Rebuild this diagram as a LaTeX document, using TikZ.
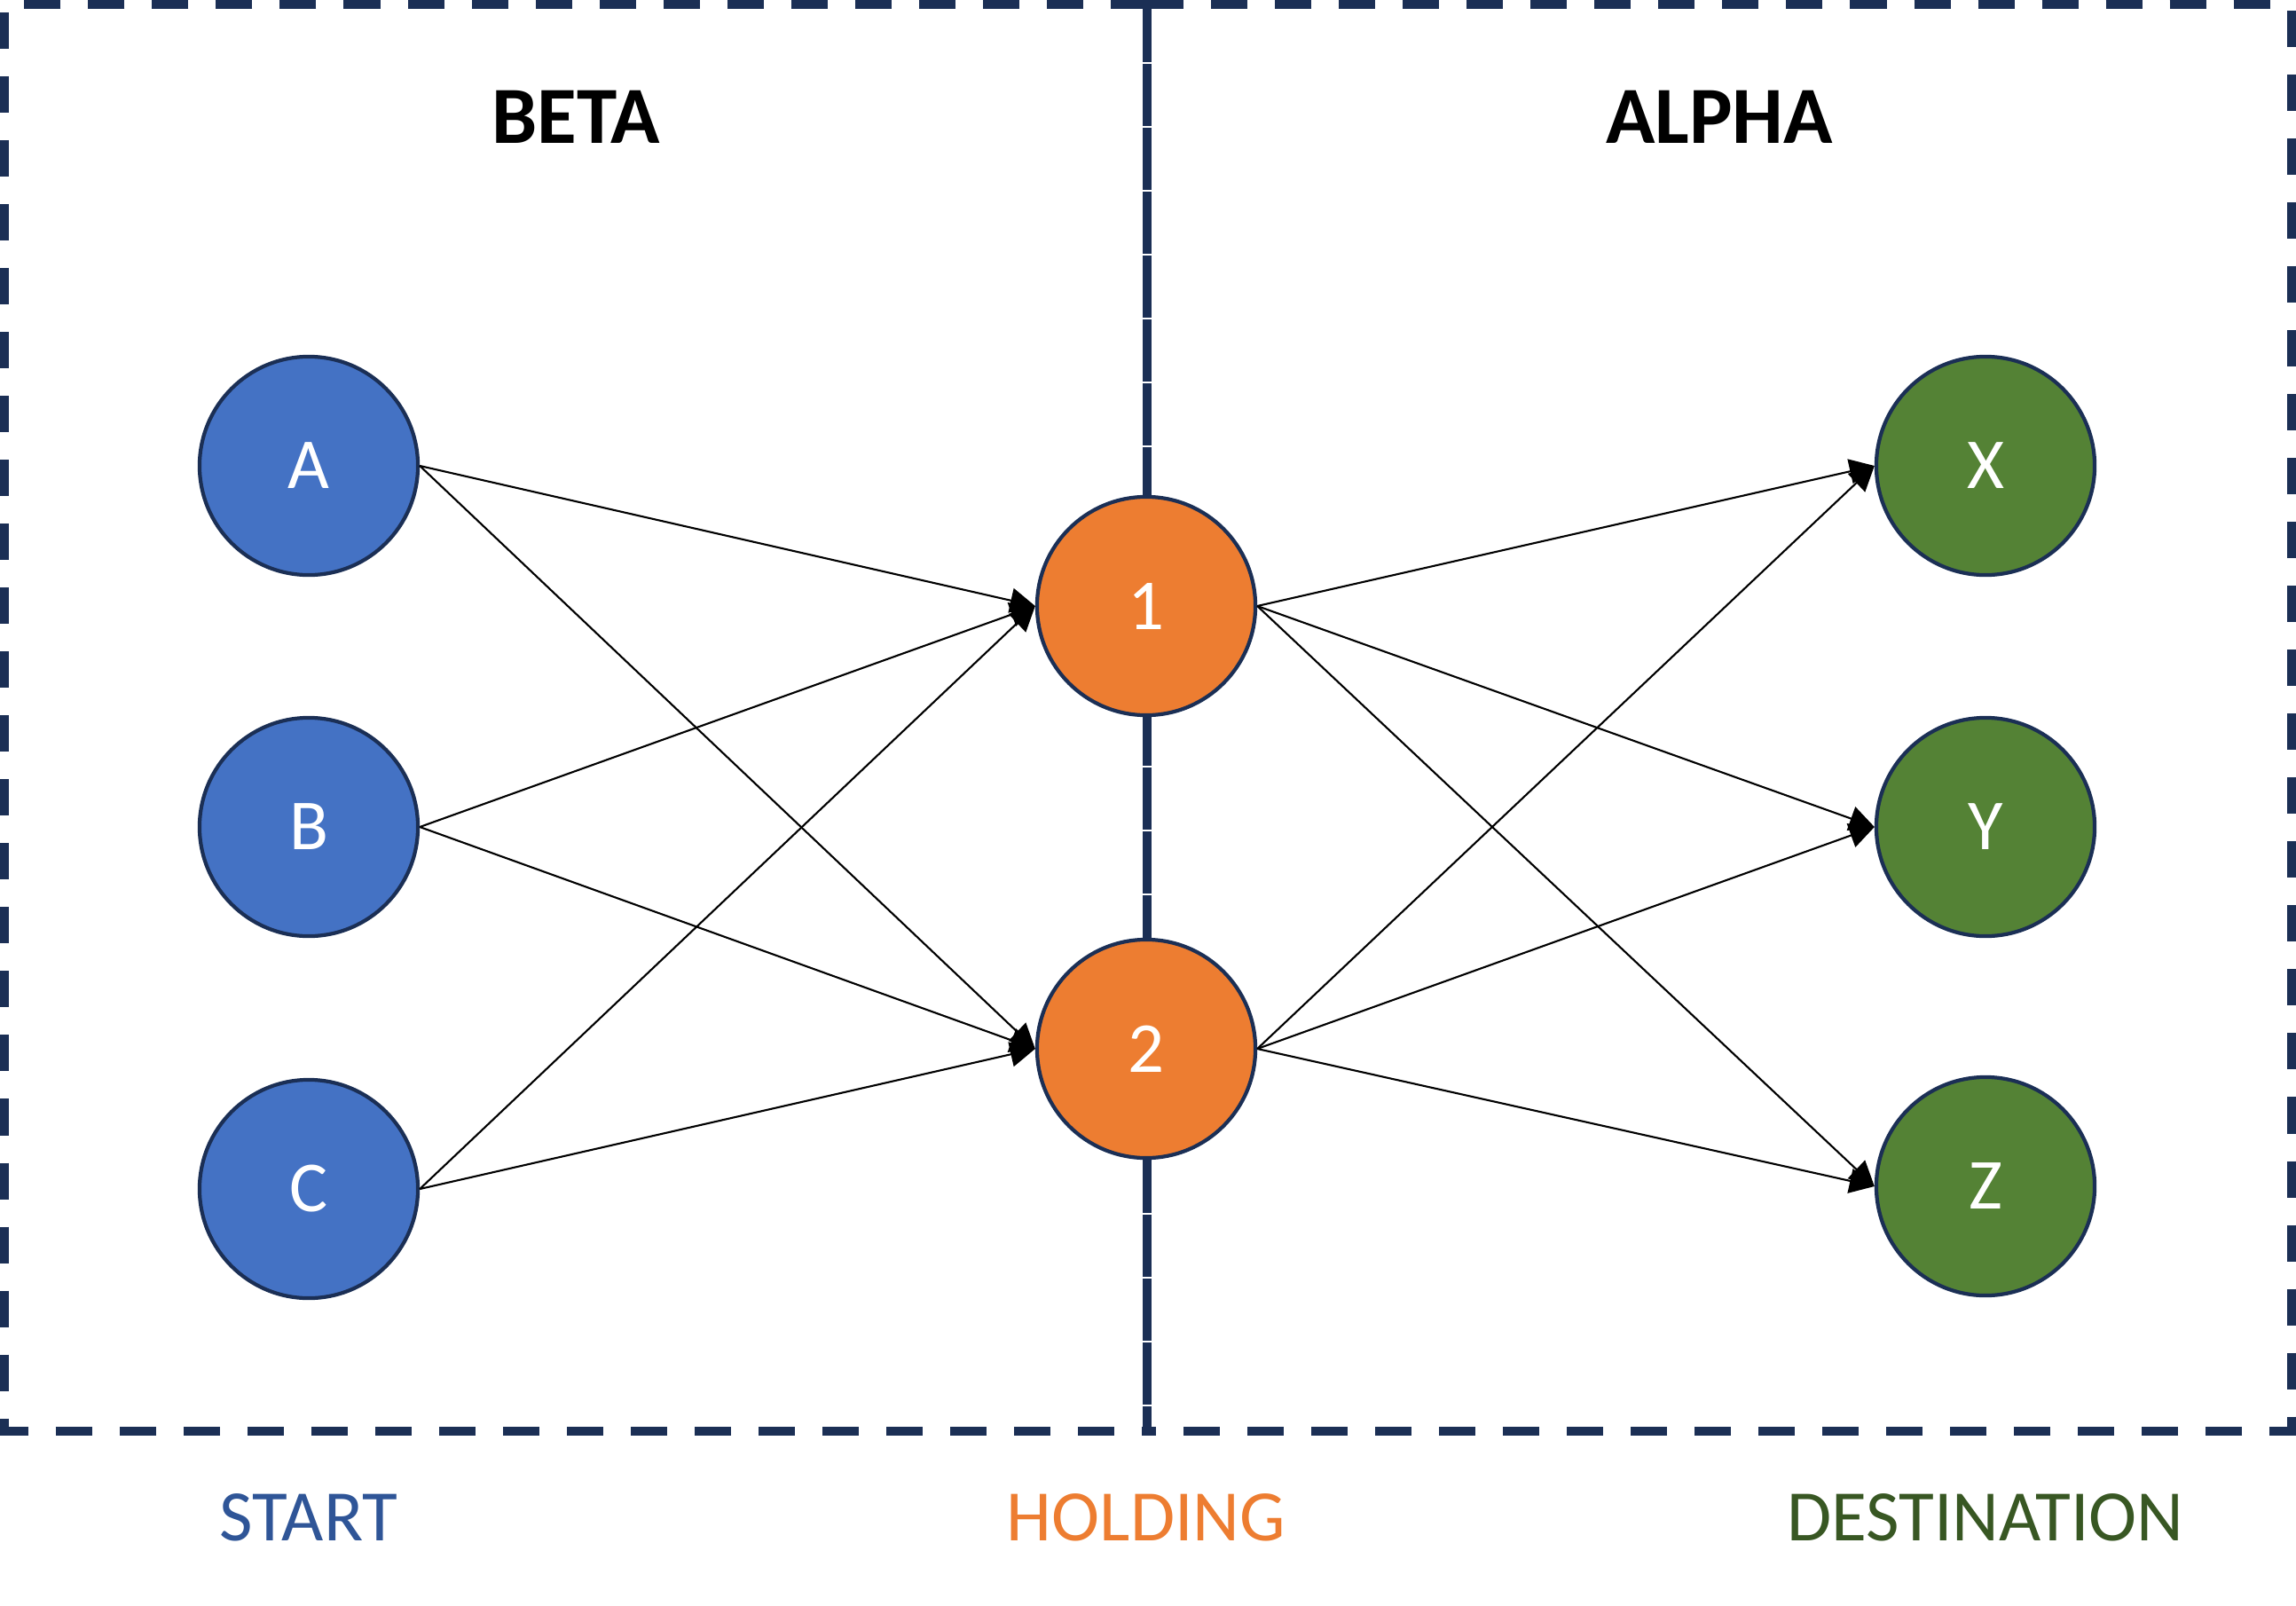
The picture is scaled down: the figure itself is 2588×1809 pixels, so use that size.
\documentclass[tikz,border=0pt]{standalone}
\usepackage{fontspec}
\setmainfont{Carlito}
\usetikzlibrary{arrows.meta}

\definecolor{boxnavy}{HTML}{1B2F55}
\definecolor{startblue}{HTML}{4472C4}
\definecolor{startdark}{HTML}{2F5597}
\definecolor{holdorange}{HTML}{ED7D31}
\definecolor{destgreen}{HTML}{548235}
\definecolor{destdark}{HTML}{385723}

\tikzset{
    station/.style={circle, draw=boxnavy, line width=1.2pt, minimum size=2.46cm,
        inner sep=0pt, text=white, font=\fontsize{23}{27}\selectfont},
    zone/.style={font=\bfseries\fontsize{26}{30}\selectfont},
    stage/.style={font=\fontsize{23.2}{28}\selectfont},
    border/.style={boxnavy, line width=2.85pt, dash pattern=on 0.41cm off 0.31cm},
    flow/.style={->, line width=0.6pt}
}

\begin{document}
\begin{tikzpicture}[x=0.01cm, y=-0.01cm, >={Triangle[length=0.28cm, width=0.28cm]}]
    \useasboundingbox (0,0) rectangle (2588,1809);
    % the two dashed areas
    \draw[border] (1293,5) -- (5,5) -- (5,1613) -- (1293,1613);
    \draw[border] (1293,5) -- (2583,5) -- (2583,1613) -- (1293,1613);
    \draw[boxnavy, line width=2.85pt, dash pattern=on 0.70cm off 0.02cm] (1293,0) -- (1293,1618);

    \node[zone] (beta) at (649,132) {BETA};
    \node[zone] (alpha) at (1938,132) {ALPHA};

    \node[station, fill=startblue] (A) at (348,525) {A};
    \node[station, fill=startblue] (B) at (348,932) {B};
    \node[station, fill=startblue] (C) at (348,1340) {C};
    \node[station, fill=holdorange] (n1) at (1292,683) {1};
    \node[station, fill=holdorange] (n2) at (1292,1182) {2};
    \node[station, fill=destgreen] (X) at (2238,525) {X};
    \node[station, fill=destgreen] (Y) at (2238,932) {Y};
    \node[station, fill=destgreen] (Z) at (2238,1337) {Z};

    \foreach \s in {A,B,C}
        \foreach \t in {n1,n2}
            \draw[flow] (\s.east) -- (\t.west);
    \foreach \s in {n1,n2}
        \foreach \t in {X,Y,Z}
            \draw[flow] (\s.east) -- (\t.west);

    \node[stage, text=startdark] (start) at (348,1710) {START};
    \node[stage, text=holdorange] (holding) at (1292,1710) {HOLDING};
    \node[stage, text=destdark] (dest) at (2238,1710) {DESTINATION};
\end{tikzpicture}
\end{document}
